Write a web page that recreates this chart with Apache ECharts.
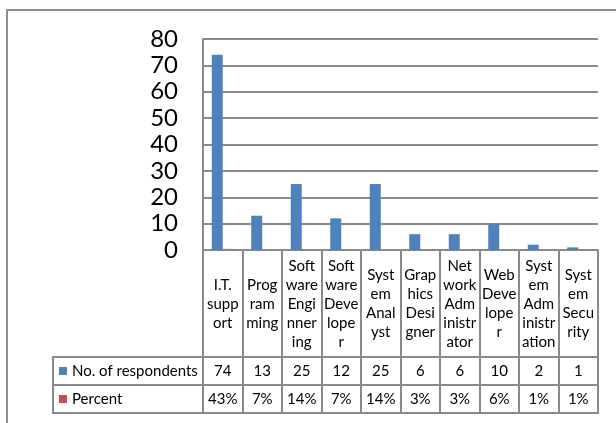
<!DOCTYPE html>
<html><head><meta charset="utf-8">
<script src="https://cdn.jsdelivr.net/npm/echarts@6/dist/echarts.min.js"></script>
<style>html,body{margin:0;padding:0;background:#fff}#c{width:616px;height:423px}</style>
</head><body><div id="c"></div>
<script>
const categories = ["I.T. support","Programming","Software Enginnering","Software Developer","System Analyst","Graphics Designer","Network Administrator","Web Developer","System Administration","System Security"];
const categoryLines = ["I.T.\nsupp\nort","Prog\nram\nming","Soft\nware\nEngi\nnner\ning","Soft\nware\nDeve\nlope\nr","Syst\nem\nAnal\nyst","Grap\nhics\nDesi\ngner","Net\nwork\nAdm\ninistr\nator","Web\nDeve\nlope\nr","Syst\nem\nAdm\ninistr\nation","Syst\nem\nSecu\nrity"];
const respondents = [74,13,25,12,25,6,6,10,2,1];
const percent = [0.43,0.07,0.14,0.07,0.14,0.03,0.03,0.06,0.01,0.01];
const percentLabels = ["43%","7%","14%","7%","14%","3%","3%","6%","1%","1%"];
const yTicks = [0,10,20,30,40,50,60,70,80];

const FONT = 'Lato';
const GRID = '#8a8a8a';
const chart = echarts.init(document.getElementById('c'), null, {renderer:'canvas'});
chart.setOption({
  animation:false,
  textStyle:{fontFamily:FONT},
  graphic:[{type:'polyline',shape:{points:[[7,424],[7,10],[617,10]]},style:{stroke:'#8e8e8e',lineWidth:2,fill:null}}],
  legend:{
    orient:'vertical', left:59, top:363, itemGap:12, padding:0,
    icon:'rect', itemWidth:8, itemHeight:8,
    textStyle:{fontFamily:FONT,fontSize:15,color:'#000',lineHeight:16},
    data:['No. of respondents','Percent']
  },
  grid:[
    {left:203, right:18, top:39, height:211},
    {left:53, right:18, top:357, height:56, show:true, borderColor:GRID, borderWidth:2}
  ],
  xAxis:[
    {type:'category', gridIndex:0, data:categories,
     axisLine:{lineStyle:{color:GRID,width:2}},
     axisTick:{show:true,interval:0,length:163,lineStyle:{color:GRID,width:2}},
     axisLabel:{interval:0, margin:54, verticalAlign:'middle', lineHeight:19, fontSize:15, color:'#000', fontFamily:FONT,
       formatter:(v,i)=>categoryLines[i]}},
    {type:'category', gridIndex:0, data:respondents.map(String), position:'bottom', offset:121,
     axisLine:{show:false}, axisTick:{show:false},
     axisLabel:{interval:0, margin:0, verticalAlign:'middle', fontSize:15, color:'#000', fontFamily:FONT}},
    {type:'category', gridIndex:0, data:percentLabels, position:'bottom', offset:149,
     axisLine:{show:false}, axisTick:{show:false},
     axisLabel:{interval:0, margin:0, verticalAlign:'middle', fontSize:15, color:'#000', fontFamily:FONT}},
    {type:'value', gridIndex:1, show:false, min:0, max:1}
  ],
  yAxis:[
    {type:'value', gridIndex:0, min:0, max:80, interval:10,
     axisLine:{show:true,lineStyle:{color:GRID,width:2}}, axisTick:{show:false},
     splitLine:{lineStyle:{color:GRID,width:2}},
     axisLabel:{margin:25, fontSize:24, color:'#000', fontFamily:FONT}},
    {type:'value', gridIndex:1, min:0, max:2, interval:1,
     axisLine:{show:false}, axisTick:{show:false}, axisLabel:{show:false},
     splitLine:{lineStyle:{color:GRID,width:2}}}
  ],
  series:[
    {name:'No. of respondents', type:'bar', xAxisIndex:0, yAxisIndex:0, data:respondents,
     barWidth:11, barGap:'0%', itemStyle:{color:'#4F81BD'}},
    {name:'Percent', type:'bar', xAxisIndex:0, yAxisIndex:0, data:percent, z:-1,
     barWidth:11, barGap:'0%', itemStyle:{color:'#C0504D'}}
  ]
});
</script></body></html>
